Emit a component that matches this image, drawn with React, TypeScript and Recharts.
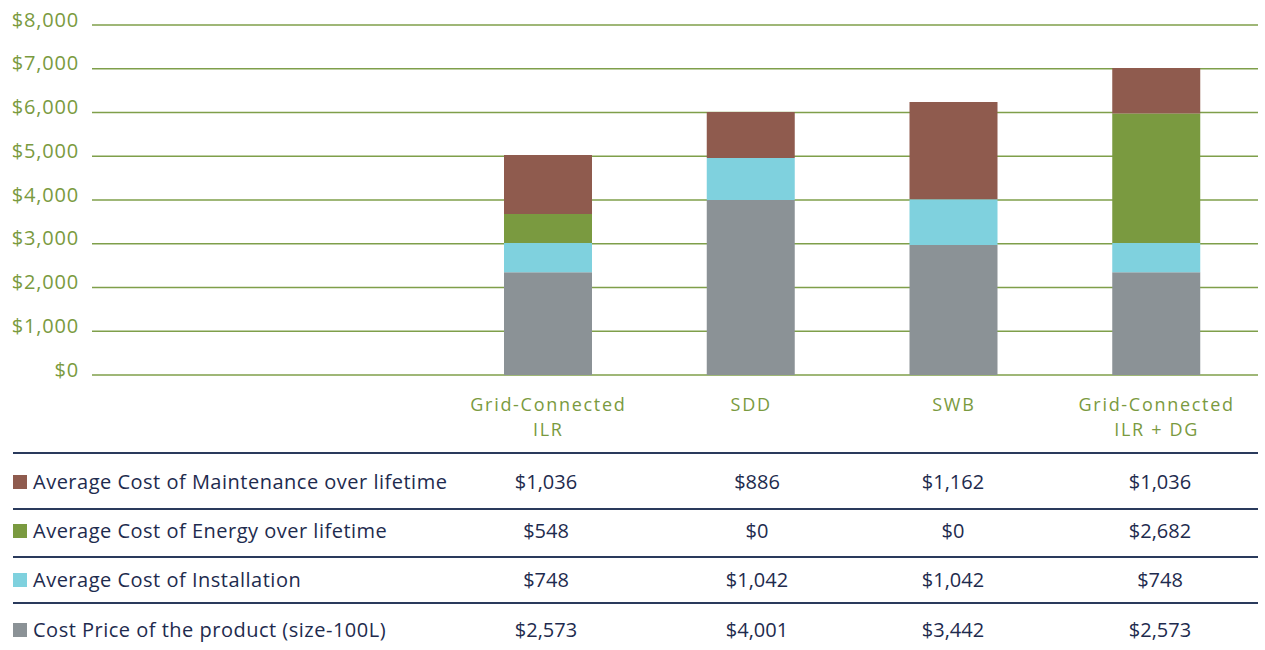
import React from "react";
import { BarChart, Bar, XAxis, YAxis, CartesianGrid } from "recharts";

const categories = ["Grid-Connected\nILR", "SDD", "SWB", "Grid-Connected\nILR + DG"];

// bar heights
const costPrice = [2350, 4000, 2970, 2350];
const installation = [665, 960, 1050, 665];
const energy = [665, 0, 0, 2960];
const maintenance = [1350, 1050, 2220, 1045];

const yTicks = [0, 1000, 2000, 3000, 4000, 5000, 6000, 7000, 8000];

// values printed in the table under the chart
const tableMaintenance = [1036, 886, 1162, 1036];
const tableEnergy = [548, 0, 0, 2682];
const tableInstallation = [748, 1042, 1042, 748];
const tableCostPrice = [2573, 4001, 3442, 2573];

const seriesLabels = [
  "Average Cost of Maintenance over lifetime",
  "Average Cost of Energy over lifetime",
  "Average Cost of Installation",
  "Cost Price of the product (size-100L)",
];

const COLORS = {
  cost: "#8b9296",
  install: "#7fd1de",
  energy: "#7a9a40",
  maint: "#8f5b4e",
};
const GREEN_TEXT = "#7a9a40";
const NAVY = "#1e2b4e";
const FONT = "'Open Sans', Lato, sans-serif";

const data = categories.map((c, i) => ({
  name: c,
  cost: costPrice[i],
  install: installation[i],
  energy: energy[i],
  maint: maintenance[i],
}));

const fmt = (v: number) => "$" + v.toLocaleString("en-US");

const YTick = (props: any) => {
  const { y, payload } = props;
  return (
    <text
      x={79}
      y={y}
      dy={-6}
      textAnchor="end"
      dominantBaseline="central"
      fill={GREEN_TEXT}
      fontSize={20}
      letterSpacing={0.8}
      fontFamily={FONT}
    >
      {fmt(payload.value)}
    </text>
  );
};

const XTick = (props: any) => {
  const { x, y, payload } = props;
  const lines = String(payload.value).split("\n");
  return (
    <text
      x={x}
      y={y + 29}
      textAnchor="middle"
      dominantBaseline="central"
      fill={GREEN_TEXT}
      fontSize={18}
      letterSpacing={1.7}
      fontFamily={FONT}
    >
      {lines.map((l, i) => (
        <tspan key={i} x={x} dy={i === 0 ? 0 : 24.5}>
          {l}
        </tspan>
      ))}
    </text>
  );
};

const tableRows = [
  { label: seriesLabels[0], color: COLORS.maint, values: tableMaintenance },
  { label: seriesLabels[1], color: COLORS.energy, values: tableEnergy },
  { label: seriesLabels[2], color: COLORS.install, values: tableInstallation },
  { label: seriesLabels[3], color: COLORS.cost, values: tableCostPrice },
];

const lineTops = [452, 508, 556, 602];
const rowCenters = [482, 531, 580, 630];
const colCenters = [546, 757, 953, 1160];

export default function App() {
  return (
    <div style={{ position: "absolute", left: 0, top: 0, width: 1265, height: 650, background: "#fff" }}>
      <div style={{ position: "absolute", left: 0, top: 0 }}>
        <BarChart
          width={1265}
          height={450}
          data={data}
          margin={{ top: 25, right: 7, bottom: 0, left: 0 }}
          barSize={88}
        >
          <CartesianGrid vertical={false} stroke="#7f9f4a" strokeWidth={1.5} />
          <XAxis
            dataKey="name"
            axisLine={false}
            tickLine={false}
            tickSize={0}
            tickMargin={0}
            height={75}
            interval={0}
            padding={{ left: 355, right: 0 }}
            tick={<XTick />}
          />
          <YAxis
            width={92}
            domain={[0, 8000]}
            ticks={yTicks}
            axisLine={false}
            tickLine={false}
            tick={<YTick />}
            interval={0}
          />
          <Bar dataKey="cost" stackId="a" fill={COLORS.cost} isAnimationActive={false} />
          <Bar dataKey="install" stackId="a" fill={COLORS.install} isAnimationActive={false} />
          <Bar dataKey="energy" stackId="a" fill={COLORS.energy} isAnimationActive={false} />
          <Bar dataKey="maint" stackId="a" fill={COLORS.maint} isAnimationActive={false} />
        </BarChart>
      </div>
      {lineTops.map((t, i) => (
        <div
          key={"l" + i}
          style={{ position: "absolute", left: 13, width: 1245, top: t, height: 1.5, background: "#2a3a5c" }}
        />
      ))}
      {tableRows.map((r, i) => (
        <React.Fragment key={"r" + i}>
          <div
            style={{
              position: "absolute",
              left: 13,
              top: rowCenters[i] - 7,
              width: 14,
              height: 14,
              background: r.color,
            }}
          />
          <div
            style={{
              position: "absolute",
              left: 33,
              top: rowCenters[i] - 13,
              height: 26,
              lineHeight: "26px",
              fontSize: 20,
              letterSpacing: 0.5,
              fontFamily: FONT,
              color: NAVY,
              whiteSpace: "nowrap",
            }}
          >
            {r.label}
          </div>
          {r.values.map((v, j) => (
            <div
              key={j}
              style={{
                position: "absolute",
                left: colCenters[j] - 80,
                width: 160,
                textAlign: "center",
                top: rowCenters[i] - 13,
                height: 26,
                lineHeight: "26px",
                fontSize: 20,
                fontFamily: FONT,
                color: NAVY,
              }}
            >
              {fmt(v)}
            </div>
          ))}
        </React.Fragment>
      ))}
    </div>
  );
}
